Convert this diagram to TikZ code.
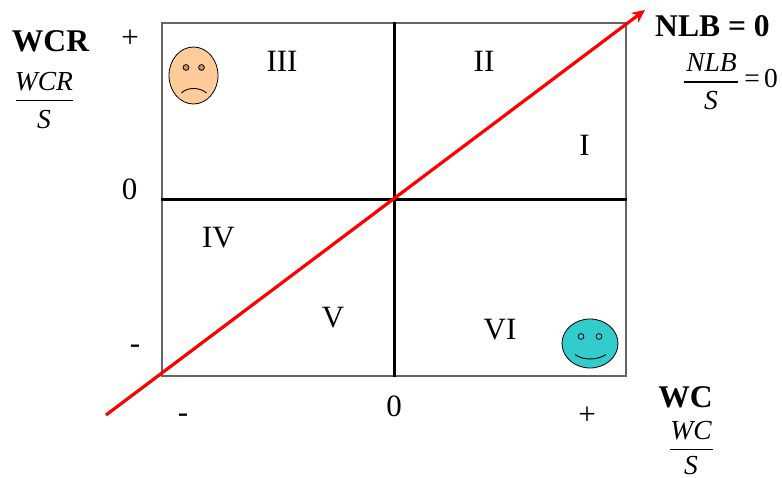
\documentclass[tikz,border=0pt]{standalone}
\usepackage{fontspec}
\setmainfont{Liberation Serif}
\usetikzlibrary{arrows.meta,shapes.geometric}
\definecolor{framegray}{RGB}{100,100,100}
\definecolor{sadface}{RGB}{255,204,153}
\definecolor{happyface}{RGB}{51,204,204}
\definecolor{sadeye}{RGB}{190,150,110}
\tikzset{
  txt/.style={anchor=base,inner sep=0pt,font=\fontsize{31}{31}\selectfont},
  bold/.style={txt,font=\fontsize{31.6}{31.6}\selectfont\bfseries},
  frac/.style={anchor=base,inner sep=0pt,font=\fontsize{27.5}{27.5}\selectfont\itshape},
  plainfrac/.style={anchor=base,inner sep=0pt,font=\fontsize{27.5}{27.5}\selectfont},
  fracbar/.style={draw=black,line width=1.2pt},
  axis/.style={draw=black,line width=3pt},
  frameline/.style={draw=framegray,line width=1.8pt},
  diag/.style={draw=red,line width=3.2pt,-{Stealth[length=13pt,width=12pt]}},
  face/.style={ellipse,draw=black,line width=0.8pt,inner sep=0pt},
  eye/.style={draw=black,line width=0.8pt}
}
\begin{document}
\begin{tikzpicture}[x=1pt,y=-1pt]
\useasboundingbox (0,0) rectangle (782,478);
% frame
\node[frameline,minimum width=464pt,minimum height=353pt,inner sep=0pt] (frame) at (394,199.5) {};
% axes
\coordinate (c) at (394,200);
\draw[axis] (frame.north -| c) -- (frame.south -| c);
\draw[axis] (frame.west |- c) -- (frame.east |- c);
% red diagonal
\coordinate (dstart) at (106,415);
\coordinate (dend) at (645,10);
\draw[diag] (dstart) -- (dend);
% region labels
\node[txt] (r3) at (282,72) {III};
\node[txt] (r2) at (484,72) {II};
\node[txt] (r1) at (584.5,156) {I};
\node[txt] (r4) at (218.5,248) {IV};
\node[txt] (r5) at (333,328) {V};
\node[txt] (r6) at (500,340) {VI};
% axis ticks
\node[txt] (yp) at (130,48) {+};
\node[txt] (y0) at (129.5,200) {0};
\node[txt] (ym) at (135,354) {-};
\node[txt] (xm) at (183,422) {-};
\node[txt] (x0) at (394,416) {0};
\node[txt] (xp) at (587,424) {+};
% WCR
\node[bold] (wcr) at (50.5,52) {WCR};
\node[frac] (wcrn) at (44,91) {WCR};
\draw[fracbar] (16,100.5) -- (73,100.5);
\node[frac] (wcrd) at (44,128.5) {S};
% NLB
\node[bold] (nlb) at (712.5,37) {NLB = 0};
\node[frac] (nlbn) at (711.5,72) {NLB};
\draw[fracbar] (684,82) -- (738,82);
\node[frac] (nlbd) at (711,110) {S};
\node[plainfrac] (nlbq) at (752,88) {=};
\node[plainfrac] (nlbz) at (771,88) {0};
% WC
\node[bold] (wc) at (685.5,407) {WC};
\node[frac] (wcn) at (691,439) {WC};
\draw[fracbar] (670,449.5) -- (713,449.5);
\node[frac] (wcd) at (691,474.5) {S};
% sad face
\node[face,fill=sadface,minimum width=49pt,minimum height=57pt] (sad) at (193.5,75.5) {};
\filldraw[eye,fill=sadeye] (186,67.5) circle (2.9pt);
\filldraw[eye,fill=sadeye] (201.5,67.5) circle (2.9pt);
\draw[line width=0.9pt] (181.5,93) .. controls (187,87) and (200,87) .. (206.5,93);
% happy face
\node[face,fill=happyface,minimum width=56pt,minimum height=49pt] (happy) at (590,343.5) {};
\filldraw[eye,fill=happyface] (581,336.5) circle (2.9pt);
\filldraw[eye,fill=happyface] (599,336.5) circle (2.9pt);
\draw[line width=0.9pt] (575,354.5) .. controls (583,360.5) and (597,360.5) .. (606,354.5);
\end{tikzpicture}
\end{document}
